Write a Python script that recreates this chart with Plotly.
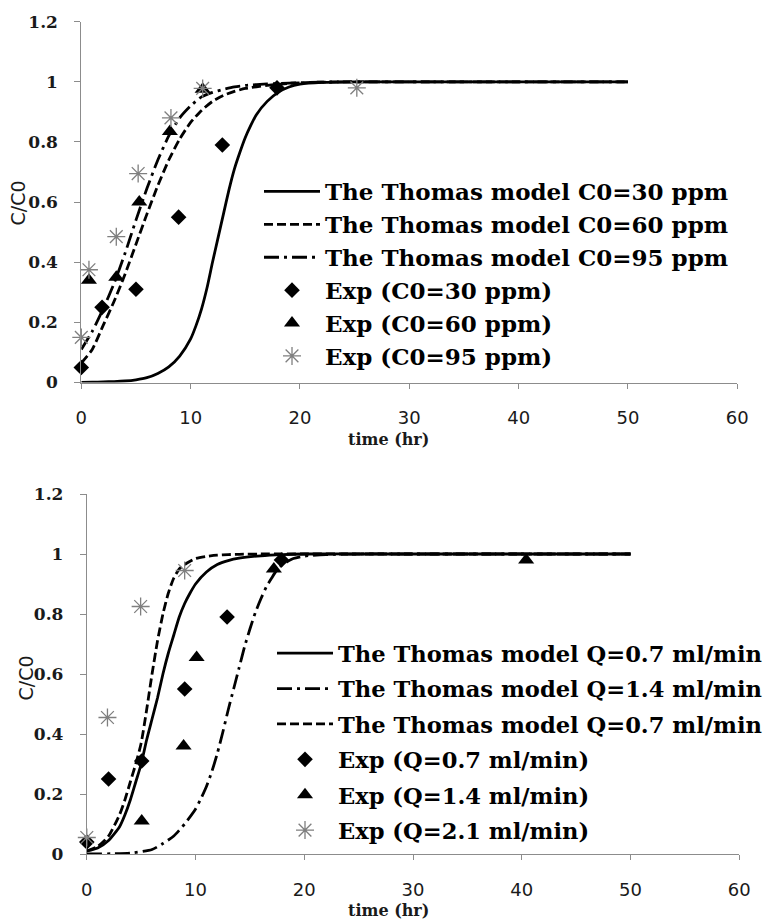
import plotly.graph_objects as go

W, H = 769, 922

# ---------------- Top panel (initial concentration) ----------------
top_t_model = [0, 1, 2, 3, 4, 5, 6, 7, 8, 9, 10, 10.5, 11, 11.5, 12, 12.5, 13, 13.5, 14,
               14.5, 15, 15.5, 16, 17, 18, 19, 20, 22, 25, 30, 40, 50]
top_c30_model = [0, 0.001, 0.002, 0.003, 0.005, 0.009, 0.016, 0.03, 0.052, 0.088, 0.145, 0.19,
                 0.245, 0.315, 0.4, 0.48, 0.56, 0.64, 0.71, 0.765, 0.815, 0.855, 0.89, 0.935,
                 0.965, 0.983, 0.992, 0.998, 1, 1, 1, 1]
top_t_model2 = [0, 1, 2, 3, 4, 5, 6, 7, 8, 9, 10, 11, 12, 13, 14, 15, 17, 19, 22, 25, 30, 40, 50]
top_c60_model = [0.065, 0.11, 0.19, 0.27, 0.36, 0.46, 0.56, 0.655, 0.74, 0.81, 0.865, 0.905,
                 0.935, 0.955, 0.968, 0.978, 0.988, 0.995, 0.999, 1, 1, 1, 1]
top_c95_model = [0.11, 0.17, 0.245, 0.33, 0.43, 0.54, 0.645, 0.74, 0.82, 0.88, 0.92, 0.95,
                 0.965, 0.975, 0.983, 0.988, 0.993, 0.996, 0.999, 1, 1, 1, 1]

top_t_exp30 = [0, 1.9, 5.0, 8.9, 12.9, 17.9]
top_c_exp30 = [0.05, 0.25, 0.31, 0.55, 0.79, 0.98]
top_t_exp60 = [0.7, 3.2, 5.3, 8.1, 11.1]
top_c_exp60 = [0.34, 0.35, 0.60, 0.835, 0.975]
top_t_exp95 = [0, 0.7, 3.2, 5.2, 8.2, 11.1, 25.2]
top_c_exp95 = [0.15, 0.375, 0.485, 0.695, 0.88, 0.978, 0.98]

top_names = ["The Thomas model C0=30 ppm", "The Thomas model C0=60 ppm",
             "The Thomas model C0=95 ppm", "Exp (C0=30 ppm)", "Exp (C0=60 ppm)",
             "Exp (C0=95 ppm)"]

# ---------------- Bottom panel (flow rate) ----------------
bot_t_model = [0, 1, 2, 3, 3.5, 4, 4.5, 5, 5.5, 6, 6.5, 7, 7.5, 8, 8.5, 9, 9.5, 10, 11, 12,
               13, 14, 16, 18, 20, 25, 30, 40, 50]
bot_q07_model = [0.01, 0.02, 0.045, 0.09, 0.13, 0.18, 0.24, 0.3, 0.38, 0.45, 0.52, 0.6, 0.67,
                 0.73, 0.79, 0.835, 0.87, 0.9, 0.94, 0.965, 0.978, 0.986, 0.994, 0.998, 1,
                 1, 1, 1, 1]
bot_q07b_model = [0.01, 0.025, 0.06, 0.13, 0.18, 0.24, 0.3, 0.37, 0.48, 0.6, 0.71, 0.8, 0.87,
                  0.92, 0.95, 0.965, 0.976, 0.985, 0.992, 0.996, 0.998, 0.999, 1, 1, 1,
                  1, 1, 1, 1]
bot_t_model14 = [0, 4, 6, 7, 8, 9, 10, 10.5, 11, 11.5, 12, 12.5, 13, 13.5, 14, 14.5, 15, 15.5,
                 16, 16.5, 17, 17.5, 18, 19, 20, 22, 25, 30, 40, 50]
bot_q14_model = [0, 0.003, 0.015, 0.035, 0.06, 0.1, 0.15, 0.185, 0.225, 0.275, 0.335, 0.405,
                 0.48, 0.55, 0.62, 0.69, 0.75, 0.805, 0.85, 0.89, 0.92, 0.948, 0.965, 0.985,
                 0.993, 0.998, 1, 1, 1, 1]

bot_t_exp07 = [0, 2.0, 5.05, 9.0, 12.9, 17.9]
bot_c_exp07 = [0.04, 0.25, 0.31, 0.55, 0.79, 0.98]
bot_t_exp14 = [5.05, 8.9, 10.1, 17.2, 40.4]
bot_c_exp14 = [0.11, 0.36, 0.655, 0.95, 0.98]
bot_t_exp21 = [0, 1.9, 4.95, 9.0]
bot_c_exp21 = [0.055, 0.455, 0.825, 0.945]

bot_names = ["The Thomas model Q=0.7 ml/min", "The Thomas model Q=1.4 ml/min",
             "The Thomas model Q=0.7 ml/min", "Exp (Q=0.7 ml/min)", "Exp (Q=1.4 ml/min)",
             "Exp (Q=2.1 ml/min)"]

x_ticks = [0, 10, 20, 30, 40, 50, 60]
y_ticks = [0, 0.2, 0.4, 0.6, 0.8, 1, 1.2]
y_ticktext = ["0", "0.2", "0.4", "0.6", "0.8", "1", "1.2"]
x_title = "time (hr)"
y_title = "C/C0"

# ---------------- styles ----------------
LW = 2.8
DASH = "9px,4px"
DASHDOT = "15px,5px,3px,5px"
STAR = "#7f7f7f"


def line(x, y, name, dash, xa, ya, leg, grp):
    return go.Scatter(x=x, y=y, name=name, mode="lines", xaxis=xa, yaxis=ya, legend=leg,
                      legendgroup=grp,
                      line=dict(color="black", width=LW, dash=dash, shape="spline",
                                smoothing=0.6),
                      cliponaxis=False, hoverinfo="skip")


def pts(x, y, name, sym, color, size, xa, ya, leg, grp, lw=0):
    return go.Scatter(x=x, y=y, name=name, mode="markers", xaxis=xa, yaxis=ya, legend=leg,
                      legendgroup=grp,
                      marker=dict(symbol=sym, color=color, size=size,
                                  line=dict(color=color, width=lw)),
                      cliponaxis=False)


fig = go.Figure()
fig.add_trace(line(top_t_model, top_c30_model, top_names[0], "solid", "x", "y", "legend", "a1"))
fig.add_trace(line(top_t_model2, top_c60_model, top_names[1], DASH, "x", "y", "legend", "a2"))
fig.add_trace(line(top_t_model2, top_c95_model, top_names[2], DASHDOT, "x", "y", "legend", "a3"))
fig.add_trace(pts(top_t_exp30, top_c_exp30, top_names[3], "diamond", "black", 12, "x", "y", "legend", "a4"))
fig.add_trace(pts(top_t_exp60, top_c_exp60, top_names[4], "triangle-up", "black", 14, "x", "y", "legend", "a5"))
fig.add_trace(pts(top_t_exp95, top_c_exp95, top_names[5], "asterisk-open", STAR, 15, "x", "y", "legend", "a6", 1.3))

fig.add_trace(line(bot_t_model, bot_q07_model, bot_names[0], "solid", "x2", "y2", "legend2", "b1"))
fig.add_trace(line(bot_t_model14, bot_q14_model, bot_names[1], DASHDOT, "x2", "y2", "legend2", "b2"))
fig.add_trace(line(bot_t_model, bot_q07b_model, bot_names[2], DASH, "x2", "y2", "legend2", "b3"))
fig.add_trace(pts(bot_t_exp07, bot_c_exp07, bot_names[3], "diamond", "black", 12, "x2", "y2", "legend2", "b4"))
fig.add_trace(pts(bot_t_exp14, bot_c_exp14, bot_names[4], "triangle-up", "black", 14, "x2", "y2", "legend2", "b5"))
fig.add_trace(pts(bot_t_exp21, bot_c_exp21, bot_names[5], "asterisk-open", STAR, 15, "x2", "y2", "legend2", "b6", 1.3))

AX = "#8c8c8c"
xcommon = dict(range=[0, 60], tickvals=x_ticks, showline=True, linecolor=AX, linewidth=1,
               ticks="outside", ticklen=5, tickcolor=AX, showgrid=False, zeroline=False,
               ticklabelstandoff=14, automargin=False,
               tickfont=dict(family="DejaVu Sans", size=18, color="#1a1a1a"))
ycommon = dict(range=[0, 1.2], tickvals=y_ticks, ticktext=y_ticktext, showline=True,
               linecolor=AX, linewidth=1, ticks="outside", ticklen=6, tickcolor=AX,
               showgrid=False, zeroline=False, ticklabelstandoff=13, automargin=False,
               tickfont=dict(family="DejaVu Serif", size=17, color="#1a1a1a", weight="bold"))

fig.update_layout(
    width=W, height=H, autosize=False,
    margin=dict(l=0, r=0, t=0, b=0, autoexpand=False),
    paper_bgcolor="white", plot_bgcolor="white",
    xaxis=dict(domain=[81.3 / W, 737.3 / W], anchor="y", **xcommon),
    yaxis=dict(domain=[(H - 382.5) / H, (H - 21.7) / H], anchor="x", **ycommon),
    xaxis2=dict(domain=[86.8 / W, 739.3 / W], anchor="y2", **xcommon),
    yaxis2=dict(domain=[(H - 854) / H, (H - 494) / H], anchor="x2", **ycommon),
    legend=dict(x=259 / W, y=(H - 170) / H, xanchor="left", yanchor="top",
                bgcolor="rgba(0,0,0,0)", itemwidth=56, tracegroupgap=0,
                traceorder="grouped",
                font=dict(family="DejaVu Serif", size=23, color="black", weight="bold")),
    legend2=dict(x=272 / W, y=(H - 632) / H, xanchor="left", yanchor="top",
                 bgcolor="rgba(0,0,0,0)", itemwidth=56, tracegroupgap=3,
                 traceorder="grouped",
                 font=dict(family="DejaVu Serif", size=22.6, color="black", weight="bold")),
    showlegend=True,
)

ann_font_y = dict(family="DejaVu Sans", size=19, color="#1a1a1a")
ann_font_x = dict(family="DejaVu Serif", size=16, color="#1a1a1a", weight="bold")
fig.add_annotation(x=18 / W, y=(H - 203.5) / H, xref="paper", yref="paper", text=y_title,
                   textangle=-90, showarrow=False, font=ann_font_y, xanchor="center", yanchor="middle")
fig.add_annotation(x=25.5 / W, y=(H - 678) / H, xref="paper", yref="paper", text=y_title,
                   textangle=-90, showarrow=False, font=ann_font_y, xanchor="center", yanchor="middle")
fig.add_annotation(x=389 / W, y=(H - 440) / H, xref="paper", yref="paper", text=x_title,
                   showarrow=False, font=ann_font_x, xanchor="center", yanchor="middle")
fig.add_annotation(x=388 / W, y=(H - 910) / H, xref="paper", yref="paper", text=x_title,
                   showarrow=False, font=ann_font_x, xanchor="center", yanchor="middle")

fig.write_html("out.html")
